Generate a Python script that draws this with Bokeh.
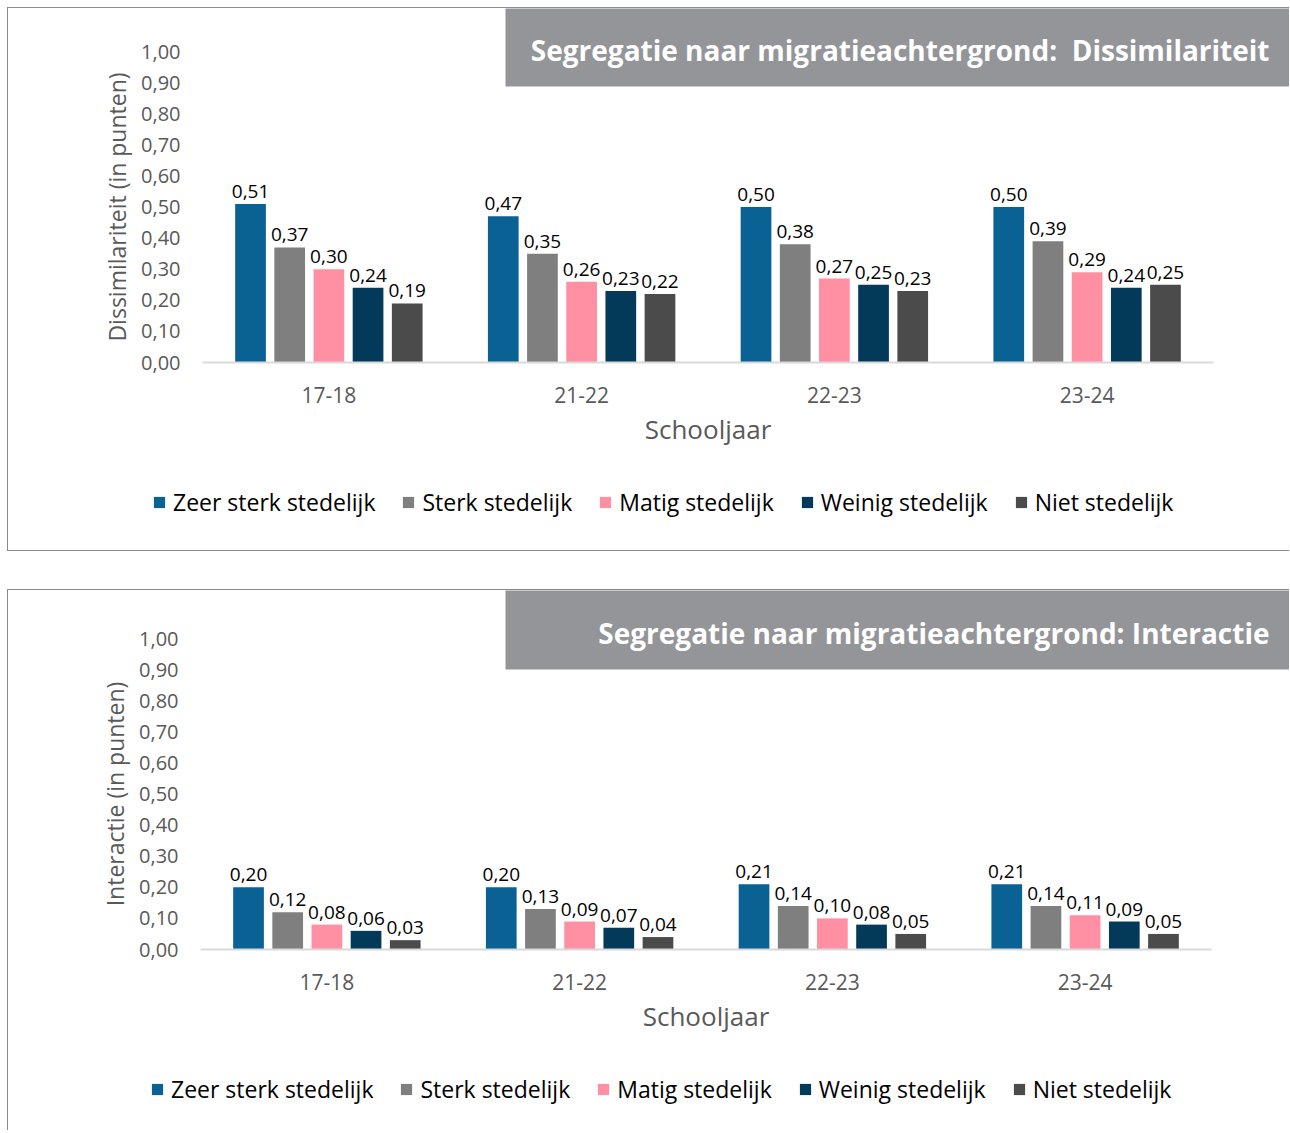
from bokeh.plotting import figure
from bokeh.models import (ColumnDataSource, Range1d, FixedTicker, BoxAnnotation, Label,
                          Legend, LegendItem, CustomJSTickFormatter)
from bokeh.transform import dodge
from bokeh.layouts import column
from bokeh.embed import file_html
from bokeh.resources import INLINE
from bokeh.core.properties import value

# ---------------- data ----------------
years = ["17-18", "21-22", "22-23", "23-24"]
series = ["Zeer sterk stedelijk", "Sterk stedelijk", "Matig stedelijk",
          "Weinig stedelijk", "Niet stedelijk"]

dis_zeer_sterk = [0.51, 0.47, 0.50, 0.50]
dis_sterk = [0.37, 0.35, 0.38, 0.39]
dis_matig = [0.30, 0.26, 0.27, 0.29]
dis_weinig = [0.24, 0.23, 0.25, 0.24]
dis_niet = [0.19, 0.22, 0.23, 0.25]

int_zeer_sterk = [0.20, 0.20, 0.21, 0.21]
int_sterk = [0.12, 0.13, 0.14, 0.14]
int_matig = [0.08, 0.09, 0.10, 0.11]
int_weinig = [0.06, 0.07, 0.08, 0.09]
int_niet = [0.03, 0.04, 0.05, 0.05]

y_ticks = [0.0, 0.1, 0.2, 0.3, 0.4, 0.5, 0.6, 0.7, 0.8, 0.9, 1]

# ---------------- style ----------------
colors = ["#0A6194", "#7F7F7F", "#FF8FA3", "#043A59", "#4B4B4B"]
offsets = [-0.31, -0.155, 0.0, 0.155, 0.31]
bar_w = 0.1215
FONT = "Open Sans"
AX_GREY = "#595959"
BORDER = "1px solid #8A8A8A"
W = 1282
CAT_PX = 252.75   # pixels per schooljaar category
UNIT_PX = 311.0   # pixels per 1.0 on the y axis

x_centers = [i + 0.5 for i in range(len(years))]


def make_chart(title, ylabel, data, height, frame_left, frame_bottom,
               box_bottom, title_y, legend_xy, margin, styles):
    x_range = Range1d(-frame_left / CAT_PX, (W - frame_left) / CAT_PX)
    y_range = Range1d(-(height - frame_bottom) / UNIT_PX, frame_bottom / UNIT_PX)
    p = figure(width=W, height=height, x_range=x_range, y_range=y_range,
               output_backend="svg", toolbar_location=None,
               min_border_left=0, min_border_right=0,
               min_border_top=0, min_border_bottom=0,
               margin=margin, styles=styles)
    p.outline_line_color = None
    p.xgrid.visible = False
    p.ygrid.visible = False

    # header box (top right)
    p.add_layout(BoxAnnotation(left=496, right=W + 50, top=-5, bottom=box_bottom,
                               left_units="canvas", right_units="canvas",
                               top_units="canvas", bottom_units="canvas",
                               fill_color="#939598", fill_alpha=1, line_color=None,
                               level="underlay"))
    p.add_layout(Label(x=1260, y=title_y, x_units="canvas", y_units="canvas",
                       text=title, text_align="right", text_baseline="middle",
                       text_color="white", text_font=FONT, text_font_style="bold",
                       text_font_size="28px"))

    items = []
    for i, (name, vals) in enumerate(zip(series, data)):
        src = ColumnDataSource(dict(
            xc=x_centers, v=vals,
            lbl=[("%.2f" % v).replace(".", ",") for v in vals]))
        r = p.vbar(x=dodge("xc", offsets[i]), top="v", width=bar_w,
                   source=src, fill_color=colors[i], line_color=None)
        p.text(x=dodge("xc", offsets[i]), y="v", text="lbl", source=src,
               text_align="center", text_baseline="bottom", y_offset=-6,
               text_font=value(FONT), text_font_size="19px", text_color="#000000")
        items.append(LegendItem(label=name, renderers=[r]))

    # y axis (drawn at x = 0 inside the full-canvas frame)
    ya = p.yaxis[0]
    ya.fixed_location = 0
    ya.ticker = FixedTicker(ticks=y_ticks)
    ya.formatter = CustomJSTickFormatter(code="return tick.toFixed(2).replace('.', ',');")
    ya.bounds = (0, 1)
    ya.axis_line_color = None
    ya.major_tick_line_color = None
    ya.minor_tick_line_color = None
    ya.major_label_standoff = 16
    ya.major_label_text_font = FONT
    ya.major_label_text_font_size = "20px"
    ya.major_label_text_color = AX_GREY
    ya.axis_label = ylabel
    ya.axis_label_standoff = 5
    ya.axis_label_text_font = FONT
    ya.axis_label_text_font_size = "23px"
    ya.axis_label_text_font_style = "normal"
    ya.axis_label_text_color = AX_GREY

    # x axis (drawn at y = 0)
    xa = p.xaxis[0]
    xa.fixed_location = 0
    xa.ticker = FixedTicker(ticks=x_centers)
    xa.formatter = CustomJSTickFormatter(args=dict(years=years),
                                         code="return years[Math.floor(tick)];")
    xa.bounds = (0, len(years))
    xa.axis_line_color = "#D9D9D9"
    xa.axis_line_width = 2
    xa.major_tick_line_color = None
    xa.minor_tick_line_color = None
    xa.major_label_standoff = 18
    xa.major_label_text_font = FONT
    xa.major_label_text_font_size = "21px"
    xa.major_label_text_color = AX_GREY
    xa.axis_label = "Schooljaar"
    xa.axis_label_standoff = 5
    xa.axis_label_text_font = FONT
    xa.axis_label_text_font_size = "26px"
    xa.axis_label_text_font_style = "normal"
    xa.axis_label_text_color = AX_GREY

    legend = Legend(items=items, orientation="horizontal", location=legend_xy,
                    glyph_width=14, glyph_height=14, label_standoff=7, spacing=26,
                    padding=0, margin=0, border_line_color=None,
                    background_fill_alpha=0,
                    label_text_font=FONT, label_text_font_size="23px",
                    label_text_color="#000000")
    p.add_layout(legend, "center")
    return p


p1 = make_chart("Segregatie naar migratieachtergrond:\u00a0 Dissimilariteit",
                "Dissimilariteit (in punten)",
                [dis_zeer_sterk, dis_sterk, dis_matig, dis_weinig, dis_niet],
                height=544, frame_left=194, frame_bottom=354,
                box_bottom=77, title_y=40, legend_xy=(144, 34),
                margin=(7, 0, 0, 7),
                styles={"border-top": BORDER, "border-left": BORDER,
                        "border-bottom": BORDER})
p2 = make_chart("Segregatie naar migratieachtergrond: Interactie",
                "Interactie (in punten)",
                [int_zeer_sterk, int_sterk, int_matig, int_weinig, int_niet],
                height=541, frame_left=192, frame_bottom=359,
                box_bottom=78, title_y=41, legend_xy=(142, 26),
                margin=(38, 0, 0, 7),
                styles={"border-top": BORDER, "border-left": BORDER})

layout = column(p1, p2)
open("out.html", "w").write(file_html(layout, INLINE))
